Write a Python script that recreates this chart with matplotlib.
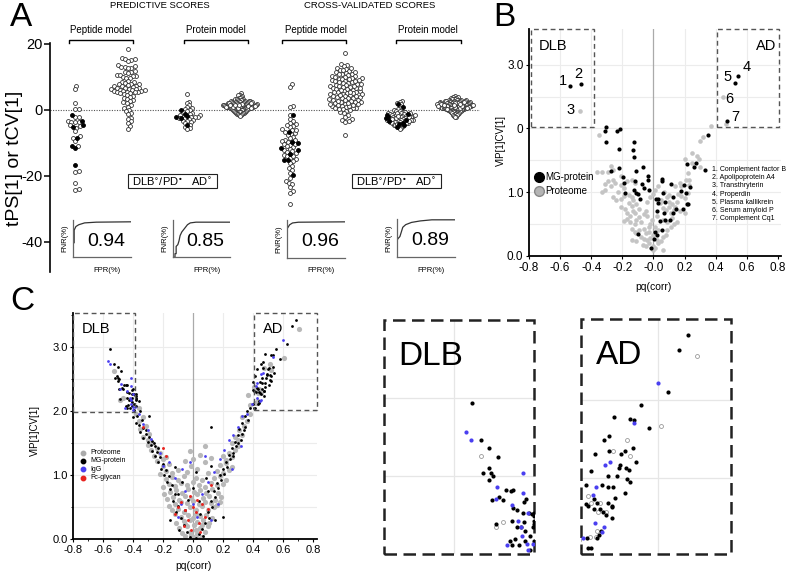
import numpy as np
import matplotlib
matplotlib.use("Agg")
import matplotlib.pyplot as plt
import matplotlib.patches as patches
from matplotlib.lines import Line2D
from matplotlib.ticker import FormatStrFormatter, MultipleLocator

plt.rcParams['font.family'] = ['Liberation Sans', 'DejaVu Sans']
plt.rcParams['axes.unicode_minus'] = False

W, H = 787, 576

# ---------------- panel A data (scores) ----------------
pred_pep_dlb = [7.3, 6.3, 2.2, 0.2, 0.2, -2.0, -2.0, -3.2, -3.5, -3.6, -3.7, -4.6, -5.0, -5.4,
                -6.4, -8.0, -8.6, -9.4, -11.0, -18.6, -18.7, -22.1, -24.0, -24.1]
pred_pep_pd = [-1.6, -3.4, -4.5, -5.2, -8.6, -10.8, -11.4, -16.6]
pred_pep_ad = [18.4, 15.8, 15.5, 15.3, 15.0, 14.9, 13.5, 13.2, 13.1, 13.0, 12.8, 12.6, 11.8, 11.6,
               11.5, 11.3, 10.6, 10.5, 10.3, 10.2, 10.0, 9.8, 9.6, 8.7, 8.6, 8.4, 8.2, 8.0, 7.9,
               7.8, 7.6, 7.4, 7.3, 7.2, 7.0, 6.8, 6.7, 6.6, 6.5, 6.4, 6.3, 6.2, 6.1, 6.0, 5.9,
               5.8, 5.7, 5.6, 5.5, 5.4, 5.3, 5.1, 5.0, 4.8, 4.5, 4.3, 4.0, 3.7, 3.4, 3.0, 2.6,
               2.3, 2.0, 1.4, 1.0, 0.6, 0.0, -0.3, -1.0, -1.2, -2.3, -2.6, -3.4, -4.0, -4.9, -5.8]
pred_prot_dlb = [4.7, 2.5, 2.0, 1.4, 0.9, 0.5, 0.2, 0.0, -0.3, -0.6, -1.0, -1.2, -1.4, -1.6, -1.8,
                 -2.0, -2.1, -2.2, -2.4, -2.5, -2.7, -3.0, -3.2, -3.4, -3.6, -4.0, -4.4, -5.2,
                 -5.6, -5.7]
pred_prot_pd = [0.0, -1.1, -2.0, -2.4, -4.5, -1.8]
pred_prot_ad = [5.0, 4.6, 4.4, 4.2, 3.9, 3.7, 3.5, 3.4, 3.3, 3.2, 3.1, 3.0, 2.9, 2.8, 2.8, 2.7,
                2.6, 2.6, 2.5, 2.5, 2.4, 2.4, 2.3, 2.3, 2.2, 2.2, 2.1, 2.1, 2.0, 2.0, 1.9, 1.9,
                1.8, 1.8, 1.7, 1.7, 1.6, 1.6, 1.5, 1.5, 1.4, 1.4, 1.3, 1.3, 1.2, 1.2, 1.1, 1.1,
                1.0, 1.0, 0.9, 0.9, 0.8, 0.8, 0.7, 0.7, 0.6, 0.6, 0.5, 0.5, 0.4, 0.4, 0.3, 0.3,
                0.2, 0.2, 0.1, 0.0, 0.0, -0.1, -0.2, -0.2, -0.3, -0.4, -0.5, -0.5, -0.6, -0.7,
                -0.8, -0.9, -1.0, -1.1, -1.2, -1.3, -1.4, -1.6, -1.8, 1.05, 1.15, 1.25, 0.85,
                0.95, 1.35, 1.45, 0.75, 2.05, 1.95, 0.65, 1.55, 1.65]
cv_pep_dlb = [8.0, 7.1, 1.3, 0.9, -1.6, -2.8, -3.4, -3.9, -4.3, -5.0, -5.3, -5.8, -6.2, -6.6, -7.0,
              -7.3, -7.7, -8.2, -8.6, -9.0, -9.4, -9.8, -10.2, -10.6, -11.0, -11.3, -11.7, -12.1,
              -12.6, -13.0, -13.5, -14.0, -14.5, -15.0, -15.6, -16.2, -17.0, -17.6, -18.2,
              -19.0, -20.5, -21.6, -22.0, -22.4, -23.2, -24.6, -25.3, -28.6, -9.2, -10.4,
              -12.4, -13.8, -6.0, -4.6]
cv_pep_pd = [-1.4, -6.6, -9.7, -10.1, -11.6, -12.1, -15.1, -15.3, -19.8, -13.2]
cv_pep_ad = [17.3, 14.0, 13.6, 13.2, 12.8, 12.5, 12.2, 12.0, 11.7, 11.4, 11.2, 11.0, 10.8, 10.5,
             10.3, 10.1, 9.9, 9.7, 9.5, 9.3, 9.1, 8.9, 8.7, 8.5, 8.3, 8.1, 7.9, 7.7, 7.5, 7.3,
             7.1, 6.9, 6.7, 6.5, 6.3, 6.1, 5.9, 5.7, 5.5, 5.3, 5.1, 4.9, 4.7, 4.5, 4.3, 4.1,
             3.9, 3.7, 3.5, 3.3, 3.1, 2.9, 2.7, 2.5, 2.3, 2.1, 1.9, 1.7, 1.5, 1.3, 1.1, 0.9,
             0.7, 0.5, 0.3, 0.1, -0.2, -0.6, -1.0, -1.5, -2.0, -2.6, -3.0, -3.2, -3.5, -7.6,
             10.9, 10.2, 9.6, 9.0, 8.4, 7.8, 7.2, 6.6, 6.0, 5.4, 4.8, 4.2, 3.6, 3.0, 2.4, 1.8,
             1.2, 0.6, 11.5, 8.8, 6.8, 5.0, 3.8, 2.2, 12.6, 9.4, 7.4, 5.6, 4.4, 2.8, 1.6, 0.4]
cv_prot_dlb = [2.7, 2.4, 2.1, 1.7, 1.3, 0.5, 0.2, 0.0, -0.2, -0.4, -0.5, -0.7, -0.8, -1.0, -1.1,
               -1.2, -1.3, -1.4, -1.5, -1.6, -1.7, -1.8, -1.9, -2.0, -2.1, -2.2, -2.3, -2.4,
               -2.5, -2.6, -2.7, -2.8, -2.9, -3.0, -3.1, -3.2, -3.3, -3.4, -3.5, -3.6, -3.7,
               -3.8, -3.9, -4.0, -4.2, -4.4, -4.6, -4.8, -5.0, -5.3, -5.6, -5.9, -1.05, -1.55,
               -2.05, -2.55, -3.05, -0.9, -1.95, -2.85, -3.45, -4.1]
cv_prot_pd = [1.9, 0.8, -1.2, -1.6, -2.0, -2.5, -3.3, -3.9, -4.2, -4.5, -5.2, -2.9]
cv_prot_ad = [4.3, 4.0, 3.8, 3.6, 3.5, 3.4, 3.3, 3.2, 3.1, 3.0, 3.0, 2.9, 2.9, 2.8, 2.8, 2.7, 2.7,
              2.6, 2.6, 2.5, 2.5, 2.4, 2.4, 2.3, 2.3, 2.2, 2.2, 2.1, 2.1, 2.0, 2.0, 1.9, 1.9,
              1.8, 1.8, 1.7, 1.7, 1.6, 1.6, 1.5, 1.5, 1.4, 1.4, 1.3, 1.3, 1.2, 1.2, 1.1, 1.1,
              1.0, 1.0, 0.9, 0.9, 0.8, 0.8, 0.7, 0.7, 0.6, 0.6, 0.5, 0.5, 0.4, 0.4, 0.3, 0.3,
              0.2, 0.2, 0.1, 0.1, 0.0, 0.0, -0.1, -0.1, -0.2, -0.2, -0.3, -0.3, -0.4, -0.5,
              -0.6, -0.7, -0.8, -0.9, -1.0, -1.1, -1.2, -1.4, -1.6, -1.8, -2.0, -2.2, 1.25,
              1.35, 1.45, 1.55, 1.05, 0.95, 0.85, 0.75, 1.65, 1.75, 1.85, 0.65, 0.55, 2.05,
              2.15, 1.15, 0.45, 2.25, 2.35, 0.35, 0.25, 1.95, 1.45, 0.9, 1.1, 1.3, 1.5, 0.7, 1.7]

# ROC curves (FPR, 1-FNR) and AUC values
roc_fpr = [[0, 0, 0.02, 0.02, 0.05, 0.1, 0.2, 0.4, 1.0],
           [0, 0.03, 0.03, 0.05, 0.05, 0.08, 0.1, 0.12, 0.15, 0.2, 0.25, 0.3, 0.4, 1.0],
           [0, 0, 0.01, 0.01, 0.03, 0.05, 0.1, 0.2, 1.0],
           [0, 0, 0.02, 0.05, 0.08, 0.1, 0.15, 0.25, 0.4, 0.6, 1.0]]
roc_tpr = [[0.4, 0.4, 0.4, 0.75, 0.85, 0.9, 0.95, 0.97, 0.98],
           [0, 0, 0.1, 0.1, 0.3, 0.35, 0.45, 0.6, 0.7, 0.8, 0.9, 0.95, 0.97, 0.97],
           [0.3, 0.3, 0.3, 0.8, 0.85, 0.9, 0.95, 0.97, 0.98],
           [0.3, 0.45, 0.5, 0.55, 0.7, 0.8, 0.87, 0.93, 0.97, 1.0, 1.0]]
auc_vals = ['0.94', '0.85', '0.96', '0.89']

# ---------------- panel B data ----------------
b_mg = [(-0.535, 2.67), (-0.466, 2.69), (0.546, 2.83), (0.523, 2.71), (0.475, 2.11),
        (-0.303, 2.02), (-0.310, 1.96), (-0.234, 1.96), (-0.217, 1.99), (-0.308, 1.79),
        (-0.127, 1.79), (-0.219, 1.68), (-0.133, 1.66), (-0.123, 1.56), (-0.224, 1.38),
        (-0.273, 1.34), (-0.065, 1.40), (-0.112, 1.33), (-0.196, 1.24), (-0.191, 1.15),
        (-0.116, 1.17), (-0.034, 1.26), (-0.034, 1.19), (0.056, 1.20), (0.052, 1.17),
        (-0.073, 1.13), (-0.062, 1.07), (-0.185, 0.99), (-0.123, 1.04), (-0.114, 0.99),
        (-0.101, 0.97), (-0.030, 1.04), (-0.084, 0.90), (0.116, 1.13), (0.196, 1.11),
        (0.232, 1.08), (0.062, 0.99), (0.123, 0.93), (0.077, 0.85), (0.017, 0.90),
        (0.028, 0.83), (0.024, 0.71), (0.067, 0.67), (0.045, 0.55), (0.077, 0.57),
        (0.105, 0.57), (0.127, 0.67), (0.144, 0.73), (0.191, 0.73), (0.213, 0.82),
        (0.222, 0.82), (0.209, 0.99), (0.174, 1.02), (0.056, 0.40), (0.024, 0.33),
        (0.006, 0.26), (-0.097, 0.35), (0.013, 0.37), (0.217, 1.44), (0.271, 1.46),
        (0.329, 1.35), (0.351, 1.90), (0.260, 1.40), (-0.013, 0.12), (0.028, 0.90)]
b_prot = [(-0.473, 2.28), (0.445, 2.49), (0.465, 2.07),
          (-0.35, 1.89), (-0.27, 1.41), (-0.26, 1.35), (-0.36, 1.31), (-0.33, 1.31), (-0.29, 1.31),
          (-0.26, 1.19), (-0.25, 1.14), (-0.27, 1.09), (-0.31, 1.03), (-0.21, 1.12), (-0.19, 1.06),
          (-0.17, 1.17), (-0.14, 1.19), (-0.12, 1.15), (-0.26, 0.93), (-0.24, 0.88), (-0.21, 0.89),
          (-0.19, 0.94), (-0.16, 0.96), (-0.14, 0.92), (-0.13, 0.88), (-0.21, 0.77), (-0.18, 0.73),
          (-0.17, 0.67), (-0.15, 0.62), (-0.14, 0.79), (-0.13, 0.71), (-0.11, 0.82), (-0.09, 0.73),
          (-0.19, 0.55), (-0.17, 0.58), (-0.15, 0.54), (-0.12, 0.50), (-0.11, 0.57), (-0.09, 0.61),
          (-0.06, 0.66), (-0.05, 0.71), (-0.14, 0.43), (-0.12, 0.38), (-0.11, 0.36), (-0.09, 0.41),
          (-0.06, 0.42), (-0.05, 0.36), (-0.03, 0.46), (-0.02, 0.50), (-0.14, 0.25), (-0.11, 0.23),
          (-0.07, 0.18), (-0.06, 0.26), (-0.05, 0.15), (-0.03, 0.21), (-0.02, 0.29), (0.00, 0.33),
          (0.00, 0.15), (0.00, 0.09), (0.06, 0.10), (0.02, 0.25), (0.05, 0.24), (0.06, 0.30),
          (0.08, 0.33), (0.09, 0.41), (0.11, 0.46), (0.13, 0.50), (0.15, 0.54), (0.12, 0.59),
          (0.09, 0.54), (0.16, 0.98), (0.18, 0.94), (0.20, 0.91), (0.22, 0.99), (0.14, 1.09),
          (0.09, 0.93), (0.10, 0.85), (0.17, 1.15), (0.18, 1.09), (0.21, 1.19), (0.23, 1.19),
          (0.14, 0.77), (0.17, 0.71), (0.20, 0.67), (0.28, 1.57), (0.29, 1.52), (0.30, 1.39),
          (0.25, 1.46), (0.25, 1.62), (0.20, 1.52), (0.22, 1.30), (0.23, 1.12), (0.37, 2.04),
          (0.32, 1.86), (0.30, 1.80), (0.05, 0.88), (0.06, 0.75), (0.08, 0.72), (0.10, 0.77),
          (0.12, 0.82), (0.15, 0.85), (-0.04, 0.85), (-0.02, 0.93), (0.00, 0.98), (0.01, 1.04),
          (0.03, 1.09), (-0.04, 0.62), (-0.01, 0.57), (0.01, 0.46), (0.03, 0.41), (-0.03, 0.38),
          (-0.33, 1.01), (-0.29, 1.17), (-0.31, 1.13), (-0.21, 1.25), (-0.23, 1.01), (-0.16, 0.83),
          (-0.12, 0.67), (-0.08, 0.54), (0.02, 0.62), (0.06, 0.57), (0.11, 0.67), (0.13, 0.72),
          (0.04, 0.83), (0.07, 1.01), (0.10, 0.96), (0.03, 0.20), (0.01, 0.12), (-0.04, 0.25),
          (-0.08, 0.30)]
b_labels = ['1', '2', '3', '4', '5', '6', '7']
b_label_pos = [(-0.585, 2.75), (-0.48, 2.86), (-0.535, 2.29), (0.6, 2.97),
               (0.475, 2.81), (0.49, 2.46), (0.525, 2.18)]
b_names = ['1. Complement factor B', '2. Apolipoprotein A4', '3. Transthryterin',
           '4. Properdin', '5. Plasma kallikrein', '6. Serum amyloid P', '7. Complement Cq1']

# ---------------- panel C data ----------------
c_prot = [(-0.05, 0.05), (0.0, 0.03), (0.03, 0.08), (0.06, 0.04), (-0.02, 0.12), (0.02, 0.15),
          (-0.07, 0.1), (0.08, 0.12), (0.05, 0.18), (-0.04, 0.2), (0.01, 0.22), (-0.09, 0.17),
          (0.1, 0.2), (0.04, 0.01), (-0.01, 0.07), (-0.11, 0.25), (-0.06, 0.28), (-0.02, 0.3),
          (0.03, 0.27), (0.07, 0.3), (0.11, 0.26), (-0.08, 0.35), (-0.03, 0.38), (0.0, 0.33),
          (0.05, 0.36), (0.09, 0.38), (0.13, 0.33), (-0.12, 0.39), (0.02, 0.4), (-0.05, 0.24),
          (0.06, 0.23), (-0.14, 0.45), (-0.1, 0.48), (-0.06, 0.43), (-0.02, 0.5), (0.02, 0.46),
          (0.06, 0.52), (0.1, 0.45), (0.14, 0.5), (-0.12, 0.55), (-0.08, 0.58), (-0.04, 0.56),
          (0.0, 0.59), (0.04, 0.55), (0.08, 0.58), (0.12, 0.56), (0.16, 0.53), (-0.16, 0.52),
          (0.18, 0.58), (-0.17, 0.63), (-0.13, 0.66), (-0.09, 0.62), (-0.05, 0.68), (-0.01, 0.64),
          (0.03, 0.7), (0.07, 0.65), (0.11, 0.68), (0.15, 0.62), (0.19, 0.66), (-0.15, 0.74),
          (-0.11, 0.77), (-0.07, 0.72), (-0.03, 0.78), (0.01, 0.74), (0.05, 0.77), (0.09, 0.73),
          (0.13, 0.78), (0.17, 0.72), (-0.19, 0.7), (-0.2, 0.82), (-0.16, 0.86), (-0.12, 0.83),
          (-0.08, 0.88), (-0.04, 0.84), (0.0, 0.9), (0.04, 0.85), (0.08, 0.82), (0.12, 0.88),
          (0.16, 0.84), (0.2, 0.87), (-0.18, 0.94), (-0.14, 0.97), (-0.1, 0.92), (-0.06, 0.98),
          (0.02, 0.96), (0.06, 0.93), (0.14, 0.95), (0.18, 0.98), (0.22, 0.93), (-0.22, 1.02),
          (-0.18, 1.06), (-0.14, 1.03), (-0.1, 1.08), (-0.04, 1.05), (0.03, 1.1), (0.1, 1.04),
          (0.16, 1.07), (0.2, 1.03), (0.24, 1.08), (-0.2, 1.14), (-0.16, 1.18), (-0.01, 1.15),
          (0.08, 1.2), (0.18, 1.16), (0.22, 1.19), (0.26, 1.13), (-0.24, 1.22), (-0.2, 1.26),
          (-0.26, 1.3), (-0.22, 1.34), (-0.28, 1.4), (-0.24, 1.43), (-0.3, 1.47), (-0.27, 1.5),
          (-0.18, 1.28), (0.22, 1.24), (0.26, 1.28), (0.24, 1.35), (0.28, 1.4), (0.3, 1.46),
          (0.26, 1.5), (0.2, 1.3), (0.0, 1.25), (0.05, 1.32), (-0.05, 1.22), (0.12, 1.27),
          (0.08, 1.45), (-0.02, 1.38), (-0.3, 1.55), (-0.33, 1.6), (-0.29, 1.65), (-0.35, 1.72),
          (-0.31, 1.76), (-0.36, 1.84), (-0.33, 1.9), (-0.38, 1.95), (0.3, 1.55), (0.33, 1.62),
          (0.31, 1.7), (0.34, 1.76), (0.36, 1.84), (0.33, 1.9), (0.38, 1.96), (0.28, 1.6),
          (-0.36, 2.05), (0.38, 2.1), (0.37, 2.25),
          (-0.526, 2.63), (-0.484, 2.17), (-0.466, 2.20),
          (0.710, 3.28), (0.610, 2.83), (0.516, 2.74), (0.476, 2.67), (0.523, 2.64), (0.407, 2.38),
          (0.415, 2.34), (0.440, 2.34), (0.435, 2.28), (0.456, 2.28), (0.431, 2.16), (0.428, 2.12),
          (0.411, 2.12)]
c_mg = [(-0.551, 2.97), (-0.526, 2.73), (-0.503, 2.68), (-0.478, 2.62), (-0.504, 2.55),
        (-0.520, 2.52), (-0.499, 2.52), (-0.492, 2.50), (-0.503, 2.47), (-0.457, 2.41),
        (-0.444, 2.40), (-0.438, 2.41), (-0.475, 2.36), (-0.496, 2.34), (-0.464, 2.34),
        (-0.407, 2.33), (-0.402, 2.35), (-0.438, 2.29), (-0.427, 2.28), (-0.409, 2.26),
        (-0.395, 2.26), (-0.386, 2.25), (-0.381, 2.26), (-0.380, 2.21), (-0.381, 2.19),
        (-0.383, 2.17), (-0.441, 2.21), (-0.407, 2.20), (-0.484, 2.19), (-0.427, 2.17),
        (-0.416, 2.17), (-0.404, 2.14), (-0.390, 2.11), (-0.432, 2.09), (-0.446, 2.08),
        (-0.441, 2.05), (-0.420, 2.05), (-0.406, 2.08), (-0.392, 2.02), (-0.380, 2.24),
        (0.685, 3.42), (0.658, 3.32), (0.629, 3.05), (0.553, 2.97), (0.479, 2.89), (0.523, 2.88),
        (0.534, 2.87), (0.577, 2.82), (0.466, 2.77), (0.452, 2.74), (0.531, 2.69), (0.464, 2.67),
        (0.509, 2.67), (0.497, 2.65), (0.426, 2.65), (0.539, 2.60), (0.495, 2.58), (0.492, 2.56),
        (0.512, 2.56), (0.521, 2.55), (0.415, 2.54), (0.463, 2.51), (0.488, 2.51), (0.516, 2.49),
        (0.523, 2.47), (0.401, 2.45), (0.444, 2.45), (0.463, 2.44), (0.477, 2.44), (0.509, 2.40),
        (0.482, 2.37), (0.424, 2.36), (0.431, 2.34), (0.401, 2.33), (0.406, 2.32), (0.463, 2.34),
        (0.472, 2.32), (0.473, 2.31), (0.423, 2.30), (0.440, 2.30), (0.447, 2.28), (0.456, 2.26),
        (0.473, 2.24), (0.442, 2.16), (0.437, 2.13), (0.431, 2.11), (0.403, 2.11), (0.406, 2.05),
        (0.414, 2.05),
        (-0.38, 2.08), (-0.36, 2.15), (-0.35, 2.0), (-0.37, 1.93), (-0.4, 1.9), (-0.34, 1.86),
        (-0.38, 1.82), (-0.36, 1.78), (-0.33, 1.74), (-0.35, 1.68), (-0.31, 1.64), (-0.33, 1.58),
        (-0.29, 1.6), (-0.3, 1.52), (-0.27, 1.54), (-0.28, 1.47), (-0.25, 1.45), (-0.27, 1.38),
        (-0.24, 1.36), (-0.25, 1.3), (-0.22, 1.28), (-0.23, 1.2), (-0.2, 1.18), (-0.21, 1.1),
        (-0.18, 1.08), (-0.19, 1.0), (-0.16, 0.98), (-0.17, 0.9), (-0.14, 0.85), (-0.15, 0.78),
        (-0.12, 0.7), (-0.13, 0.6), (-0.1, 0.52), (-0.11, 0.42), (-0.08, 0.33), (-0.06, 0.22),
        (-0.04, 0.12), (-0.02, 0.04), (-0.31, 1.7), (-0.26, 1.5), (-0.23, 1.42), (-0.29, 1.93),
        (0.36, 2.0), (0.38, 2.05), (0.35, 1.92), (0.37, 1.86), (0.33, 1.82), (0.35, 1.75),
        (0.31, 1.72), (0.33, 1.65), (0.3, 1.62), (0.32, 1.55), (0.28, 1.52), (0.29, 1.45),
        (0.26, 1.42), (0.27, 1.35), (0.24, 1.32), (0.25, 1.25), (0.22, 1.2), (0.23, 1.12),
        (0.2, 1.1), (0.21, 1.02), (0.18, 1.0), (0.19, 0.92), (0.16, 0.88), (0.17, 0.8),
        (0.14, 0.75), (0.15, 0.66), (0.12, 0.6), (0.13, 0.5), (0.1, 0.42), (0.11, 0.34),
        (0.08, 0.26), (0.06, 0.16), (0.04, 0.08), (0.02, 0.02), (0.34, 1.7), (0.3, 1.5),
        (0.27, 1.3), (-0.09, 0.15), (0.07, 0.05), (-0.05, 0.45), (0.04, 0.6), (0.0, 0.8),
        (-0.07, 0.9), (0.09, 0.95), (0.02, 1.05), (-0.12, 1.12), (0.12, 1.15), (0.12, 1.75),
        (0.2, 0.35), (-0.15, 0.3), (0.15, 0.3), (-0.1, 0.7), (0.1, 0.75), (-0.03, 0.62),
        (0.05, 0.4)]
c_igg = [(-0.567, 2.78), (-0.553, 2.73), (-0.411, 2.52), (-0.482, 2.43), (-0.411, 2.39),
         (-0.484, 2.35), (-0.441, 2.31), (-0.397, 2.26), (-0.423, 2.21), (-0.415, 2.17),
         (-0.413, 2.11), (-0.453, 2.05), (-0.398, 2.06), (-0.397, 2.02), (-0.384, 2.06),
         (0.600, 3.11), (0.534, 2.85), (0.453, 2.58), (0.468, 2.60), (0.428, 2.44), (0.419, 2.39),
         (0.426, 2.21), (0.451, 2.18), (0.444, 2.15), (0.392, 2.11),
         (-0.36, 1.96), (-0.33, 1.8), (-0.3, 1.7), (-0.28, 1.56), (-0.22, 1.35), (-0.2, 1.15),
         (-0.16, 1.2), (-0.12, 0.95), (-0.07, 1.1), (-0.05, 0.75), (0.0, 0.55), (0.03, 0.35),
         (0.06, 0.7), (0.1, 0.9), (0.14, 1.05), (0.18, 1.25), (0.21, 1.4), (0.24, 1.55),
         (0.27, 1.62), (0.3, 1.75), (0.33, 1.92), (0.36, 1.95), (0.17, 0.55), (0.12, 0.3),
         (-0.1, 0.35), (-0.08, 0.55), (0.08, 1.3), (-0.02, 1.2), (0.26, 1.1), (0.32, 1.45)]
c_fc = [(-0.33, 1.75), (-0.2, 1.42), (-0.08, 0.58), (-0.05, 0.45), (-0.03, 0.3), (0.0, 0.5),
        (0.02, 0.42), (0.04, 0.25), (0.06, 0.55), (-0.06, 0.2), (0.08, 0.35), (0.05, 0.12),
        (-0.1, 0.5), (0.1, 0.48), (-0.02, 0.68), (0.03, 0.62), (-0.12, 0.4), (0.12, 0.85),
        (-0.18, 1.3), (-0.01, 0.15)]

GRAY = '#c4c4c4'
BLUE = '#4a3ff0'
RED = '#e8231f'


def box(l, t, r, b):
    # pixel box (left, top, right, bottom) -> figure fraction rect
    return [l / W, 1 - b / H, (r - l) / W, (b - t) / H]


def fp(x, y):
    return (x / W, 1 - y / H)


def ftext(x, y, s, **kw):
    fig.text(x / W, 1 - y / H, s, **kw)


def swarm(y_px, d):
    order = np.argsort(y_px)
    placed = []
    xs = np.zeros(len(y_px))
    for i in order:
        y = y_px[i]
        near = [(px, py) for px, py in placed if abs(py - y) < d]
        cands = [0.0]
        for px, py in near:
            dx = np.sqrt(d * d - (py - y) ** 2)
            cands += [px + dx, px - dx]
        cands.sort(key=abs)
        for c in cands:
            if all((c - px) ** 2 + (y - py) ** 2 >= d * d - 1e-6 for px, py in near):
                xs[i] = c
                placed.append((c, y))
                break
    return xs


fig = plt.figure(figsize=(W / 100, H / 100), dpi=100)

# ======================= Panel A =======================
axA = fig.add_axes(box(50, 43, 480, 272))
axA.set_xlim(0, 8.1)
axA.set_ylim(-49.1, 20.3)
for s in ['top', 'right', 'bottom']:
    axA.spines[s].set_visible(False)
axA.spines['left'].set_linewidth(1.2)
axA.set_xticks([])
axA.set_yticks([20, 0, -20, -40])
axA.set_yticklabels(['20', '0', '-20', '-40'], fontsize=10.5)
axA.tick_params(axis='y', length=4, width=1.1, pad=1)
axA.axhline(0, color='#555555', lw=0.8, ls=(0, (1, 1.3)))
ftext(15, 158, 'tPS[1] or tCV[1]', rotation=90, ha='center', va='center', fontsize=14)

groups = [(pred_pep_dlb, pred_pep_pd), (pred_pep_ad, []), (pred_prot_dlb, pred_prot_pd),
          (pred_prot_ad, []), (cv_pep_dlb, cv_pep_pd), (cv_pep_ad, []),
          (cv_prot_dlb, cv_prot_pd), (cv_prot_ad, [])]
group_x = [0.47, 1.47, 2.58, 3.58, 4.52, 5.56, 6.59, 7.63]
half_w = [12, 17, 13, 17, 13, 17, 15, 18]   # max half-width of each swarm, px

p0 = axA.transData.transform((0, 0))
p1 = axA.transData.transform((1, 1))
sx, sy = p1[0] - p0[0], p1[1] - p0[1]
for (opn, fil), gx, hw in zip(groups, group_x, half_w):
    vals = np.array(list(opn) + list(fil), dtype=float)
    filled = np.array([False] * len(opn) + [True] * len(fil))
    offs = swarm(vals * sy, 3.6)
    m = np.abs(offs).max()
    if m > hw:
        offs = offs * hw / m
    offs = offs / sx
    axA.scatter(gx + offs[~filled], vals[~filled], s=8, facecolor='white',
                edgecolor='#333333', linewidth=0.6, zorder=3)
    if filled.any():
        axA.scatter(gx + offs[filled], vals[filled], s=8, facecolor='black',
                    edgecolor='black', linewidth=0.6, zorder=4)

ftext(160, 6, 'PREDICTIVE SCORES', ha='center', va='center', fontsize=6.8)
ftext(370, 6, 'CROSS-VALIDATED SCORES', ha='center', va='center', fontsize=6.8)
for cx, l, r in [(100.5, 69, 133), (216, 184.3, 247.7), (316, 282.3, 345.7), (428.3, 395.7, 460.7)]:
    ftext(cx, 30, 'Peptide model' if cx in (100.5, 316) else 'Protein model',
          ha='center', va='center', fontsize=7)
    fig.add_artist(Line2D([l / W, l / W, r / W, r / W],
                          [1 - 43 / H, 1 - 39.7 / H, 1 - 39.7 / H, 1 - 43 / H],
                          color='black', lw=1.0))

for x0 in [128.3, 352.3]:
    fig.add_artist(patches.Rectangle(fp(x0, 188), 88.5 / W, 13.7 / H, transform=fig.transFigure,
                                     facecolor='white', edgecolor='#222222', lw=0.8))
    ftext(x0 + 4, 181.5, r'DLB$^{\circ}$/PD$^{\bullet}$', ha='left', va='center', fontsize=8)
    ftext(x0 + 63, 181.5, r'AD$^{\circ}$', ha='left', va='center', fontsize=8)

roc_boxes = [(73, 220, 131, 257.3), (173.3, 220, 230, 257.3), (286.7, 220, 345, 258),
             (397, 218.7, 455, 257)]
for (l, t, r, b), fpr, tpr, auc in zip(roc_boxes, roc_fpr, roc_tpr, auc_vals):
    ax = fig.add_axes(box(l, t, r, b))
    ax.set_xlim(0, 1)
    ax.set_ylim(0, 1.03)
    for s in ['top', 'right']:
        ax.spines[s].set_visible(False)
    for s in ['left', 'bottom']:
        ax.spines[s].set_color('#666666')
        ax.spines[s].set_linewidth(0.9)
    ax.set_xticks([])
    ax.set_yticks([])
    ax.patch.set_alpha(0)
    ax.plot(fpr, tpr, color='#333333', lw=0.9)
    ftext((l + r) / 2 + 4, (t + b) / 2 + 3, auc, ha='center', va='center', fontsize=14)
    ftext(l - 8, (t + b) / 2, 'FNR(%)', rotation=90, ha='center', va='center', fontsize=5.5)
    ftext((l + r) / 2 + 5, 271, 'FPR(%)', ha='center', va='center', fontsize=5.5)

ftext(21, 18, 'A', ha='center', va='center', fontsize=24)

# ======================= Panel B =======================
axB = fig.add_axes(box(529, 29, 781, 256))
axB.set_xlim(-0.8, 0.82)
axB.set_ylim(0, 3.56)
for s in ['top', 'right']:
    axB.spines[s].set_visible(False)
for s in ['left', 'bottom']:
    axB.spines[s].set_linewidth(1.3)
axB.set_xticks(np.arange(-0.8, 0.81, 0.2))
axB.xaxis.set_major_formatter(FormatStrFormatter('%.1f'))
axB.set_yticks([0, 1, 2, 3])
axB.set_yticklabels(['0.0', '1.0', '0', '3.0'])
axB.tick_params(labelsize=8.5, length=2.5, pad=1.5)
for v in [-0.6, -0.4, -0.2, 0.2, 0.4, 0.6]:
    axB.axvline(v, color='#ececec', lw=0.8, zorder=0)
for v in [0.5, 1.0, 1.5, 2.0, 2.5, 3.0]:
    axB.axhline(v, color='#ececec', lw=0.8, zorder=0)
axB.axvline(0, color='#aaaaaa', lw=0.9, zorder=0)
bp = np.array(b_prot)
bm = np.array(b_mg)
axB.scatter(bp[:, 0], bp[:, 1], s=11, color=GRAY, linewidth=0, zorder=2)
axB.scatter(bm[:, 0], bm[:, 1], s=9, color='black', linewidth=0, zorder=3)
for lab, (lx, ly) in zip(b_labels, b_label_pos):
    axB.text(lx, ly, lab, ha='center', va='center', fontsize=10.5)
for x0, x1 in [(-0.79, -0.38), (0.41, 0.81)]:
    axB.add_patch(patches.Rectangle((x0, 2.03), x1 - x0, 1.53, fill=False, ec='#555555',
                                    lw=1.0, ls=(0, (3.5, 2.5)), clip_on=False))
axB.text(-0.735, 3.3, 'DLB', ha='left', va='center', fontsize=10.5)
axB.text(0.79, 3.3, 'AD', ha='right', va='center', fontsize=10.5)
ftext(501, 140, 'VIP[1]CV[1]', rotation=90, ha='center', va='center', fontsize=7)
ftext(653, 287, 'pq(corr)', ha='center', va='center', fontsize=7.5)
for k, name in enumerate(b_names):
    ftext(712, 169.5 + 8.2 * k, name, ha='left', va='center', fontsize=5)
fig.add_artist(Line2D([539.3 / W], [1 - 177.3 / H], marker='o', ms=7, color='black', ls=''))
fig.add_artist(Line2D([539.3 / W], [1 - 190.7 / H], marker='o', ms=7, mfc='#b4b4b4',
                      mec='#888888', ls=''))
ftext(545, 177.3, 'MG-protein', ha='left', va='center', fontsize=7)
ftext(545, 190.7, 'Proteome', ha='left', va='center', fontsize=7)
ftext(504, 18, 'B', ha='center', va='center', fontsize=24)

# ======================= Panel C =======================
axC = fig.add_axes(box(73, 313, 317, 539.3))
axC.set_xlim(-0.8, 0.827)
axC.set_ylim(0, 3.53)
for s in ['top', 'right']:
    axC.spines[s].set_visible(False)
for s in ['left', 'bottom']:
    axC.spines[s].set_linewidth(1.3)
axC.set_xticks(np.arange(-0.8, 0.81, 0.2))
axC.xaxis.set_minor_locator(MultipleLocator(0.1))
axC.xaxis.set_major_formatter(FormatStrFormatter('%.1f'))
axC.set_yticks([0, 1, 2, 3])
axC.yaxis.set_minor_locator(MultipleLocator(0.5))
axC.yaxis.set_major_formatter(FormatStrFormatter('%.1f'))
axC.tick_params(labelsize=8, length=2.5, pad=1.5)
axC.tick_params(which='minor', length=1.5)
for v in [-0.6, -0.4, -0.2, 0.2, 0.4, 0.6]:
    axC.axvline(v, color='#ececec', lw=0.8, zorder=0)
for v in [0.5, 1.0, 1.5, 2.0, 2.5, 3.0]:
    axC.axhline(v, color='#ececec', lw=0.8, zorder=0)
axC.axvline(0, color='#aaaaaa', lw=0.9, zorder=0)
cp, cm, ci, cf = (np.array(a) for a in (c_prot, c_mg, c_igg, c_fc))
axC.scatter(cp[:, 0], cp[:, 1], s=14, color='#b8b8b8', linewidth=0, zorder=2)
axC.scatter(cm[:, 0], cm[:, 1], s=4, color='black', linewidth=0, zorder=3)
axC.scatter(ci[:, 0], ci[:, 1], s=4, color=BLUE, linewidth=0, zorder=4)
axC.scatter(cf[:, 0], cf[:, 1], s=4.5, color=RED, linewidth=0, zorder=5)
for x0, x1, y0 in [(-0.798, -0.387, 1.99), (0.409, 0.825, 2.02)]:
    axC.add_patch(patches.Rectangle((x0, y0), x1 - x0, 3.53 - y0, fill=False, ec='#555555',
                                    lw=1.0, ls=(0, (3.5, 2.5)), clip_on=False, zorder=6))
axC.text(-0.74, 3.28, 'DLB', ha='left', va='center', fontsize=10.5)
axC.text(0.47, 3.28, 'AD', ha='left', va='center', fontsize=10.5)
ftext(193, 566, 'pq(corr)', ha='center', va='center', fontsize=7.5)
ftext(35, 430, 'VIP[1]CV[1]', rotation=90, ha='center', va='center', fontsize=7)
for k, (lab, col) in enumerate([('Proteome', '#aaaaaa'), ('MG-protein', 'black'),
                                ('IgG', BLUE), ('Fc-glycan', RED)]):
    yy = 452.7 + 8.3 * k
    fig.add_artist(Line2D([82.7 / W], [1 - yy / H], marker='o', ms=3.2, color=col, ls=''))
    ftext(90.7, yy, lab, ha='left', va='center', fontsize=5)
ftext(22, 302, 'C', ha='center', va='center', fontsize=24)

# zoomed DLB / AD regions of panel C
for rect, xl, yl, gx, name, tx in [((384.3, 320, 534, 554), (-0.792, -0.380), (1.994, 3.506),
                                    -0.6, 'DLB', 0.09),
                                   ((580.7, 319.3, 731, 554), (0.386, 0.804), (2.009, 3.519),
                                    0.6, 'AD', 0.1)]:
    ax = fig.add_axes(box(*rect))
    ax.set_xlim(*xl)
    ax.set_ylim(*yl)
    for s in ax.spines.values():
        s.set_visible(False)
    ax.set_xticks([])
    ax.set_yticks([])
    ax.axvline(gx, color='#e6e6e6', lw=0.9, zorder=0)
    for v in [2.5, 3.0]:
        ax.axhline(v, color='#e6e6e6', lw=0.9, zorder=0)
    ax.scatter(cp[:, 0], cp[:, 1], s=8, facecolor='white', edgecolor='#999999',
               linewidth=0.6, zorder=2)
    ax.scatter(cm[:, 0], cm[:, 1], s=9, color='black', linewidth=0, zorder=3)
    ax.scatter(ci[:, 0], ci[:, 1], s=9, color=BLUE, linewidth=0, zorder=4)
    ax.add_patch(patches.Rectangle((0, 0), 1, 1, transform=ax.transAxes, fill=False,
                                   ec='#222222', lw=1.8, ls=(0, (5, 2.6)), clip_on=False))
    ax.text(tx, 0.845, name, transform=ax.transAxes, ha='left', va='center', fontsize=24)

fig.savefig('out.png', dpi=100)
